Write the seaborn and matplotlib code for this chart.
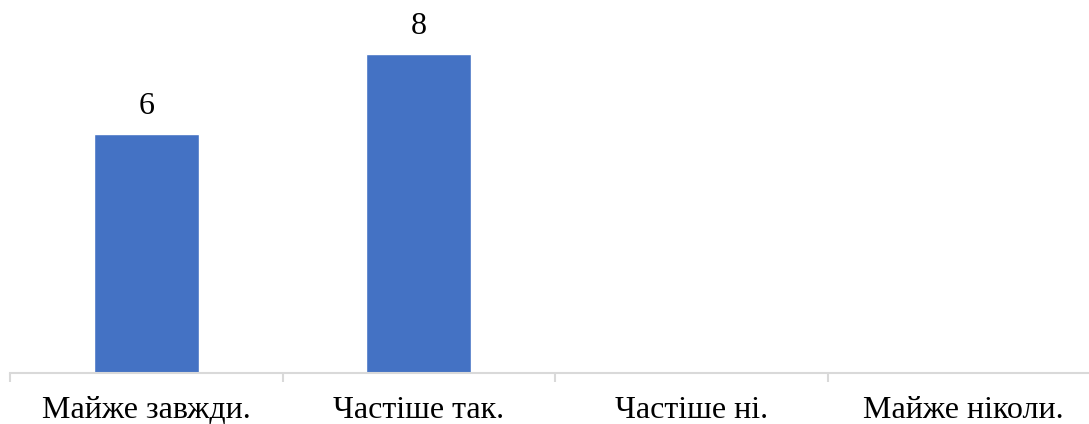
import matplotlib
matplotlib.use("Agg")
import matplotlib.pyplot as plt
import seaborn as sns
import pandas as pd
import numpy as np

categories = ["Майже завжди.", "Частіше так.", "Частіше ні.", "Майже ніколи."]
values = [6, 8, 0, 0]

sns.set_style("white")
plt.rcParams['font.family'] = ['Liberation Serif', 'DejaVu Serif']

df = pd.DataFrame({"cat": categories, "val": values})

fig = plt.figure(figsize=(10.89, 4.24), dpi=100)
ax = fig.add_axes([10/1089, 51/424, 1090/1089, 356/424])

sns.barplot(data=df, x="cat", y="val", color="#4472C4", width=0.386,
            saturation=1, ax=ax)

ax.set_xlim(-0.5, 3.5)
ax.set_ylim(0, 8.92)
ax.set_xlabel("")
ax.set_ylabel("")
ax.set_yticks([])

for s in ["top", "right", "left"]:
    ax.spines[s].set_visible(False)
ax.spines["bottom"].set_color("#d9d9d9")
ax.spines["bottom"].set_linewidth(1.5)

ax.set_xticks(range(len(categories)))
ax.set_xticklabels(categories, fontsize=23, color="black")
ax.set_xticks(np.arange(-0.5, len(categories), 1.0), minor=True)
ax.tick_params(axis="x", which="major", bottom=False, length=0, pad=16.5)
ax.tick_params(axis="x", which="minor", bottom=True, length=6.5, width=1.5,
               color="#d9d9d9")

for i, v in enumerate(values):
    if v:
        ax.annotate(str(v), (i, v), xytext=(0, 14.4), textcoords="offset points",
                    ha="center", va="baseline", fontsize=23, color="black")

fig.savefig("out.png", dpi=100)
